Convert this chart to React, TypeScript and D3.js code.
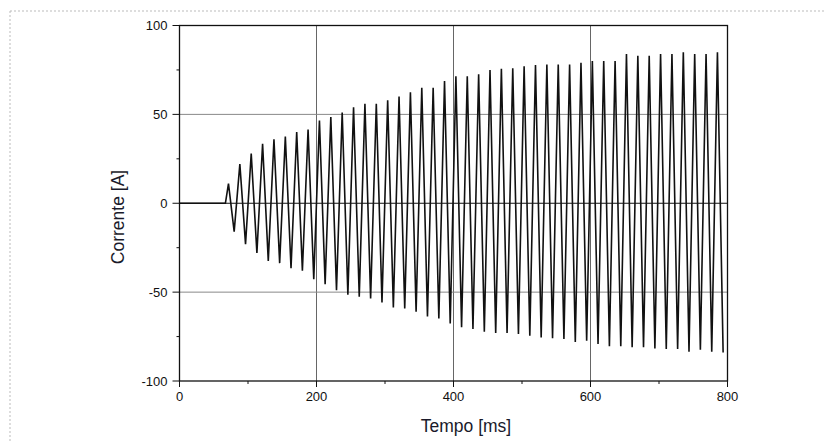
import React from "react"
import * as d3 from "d3"

const width = 826
const height = 443

// oscillogram of the inrush current
const startTime = 71.5 // ms, first positive peak
const period = 16.6 // ms, 60 Hz
const positivePeaks = [
  11, 22, 28, 33.5, 36, 37.5, 40, 41.5, 46.5, 48.5, 51, 54, 56, 56, 58, 60,
  62.5, 65, 65, 68.7, 71.5, 71.5, 72.5, 75, 75.7, 76, 77, 77.7, 78, 78, 78, 79,
  80, 80, 80, 84, 83, 83, 84, 84, 85, 84, 84, 85,
]
const negativePeaks = [
  -16, -23, -28, -32.4, -33.7, -36.5, -38, -42.7, -45.5, -49, -51.5, -52.6,
  -53.6, -55.8, -58.6, -59.2, -61, -63.7, -64.8, -67.6, -69.8, -70.8, -72.3,
  -73, -73, -73.6, -74.5, -75.5, -76, -76.4, -78, -77.3, -79.2, -80.5, -80.5,
  -81, -81, -81.7, -82, -82, -83.5, -82.4, -83.5, -84,
]
const preTrigger = [
  { t: 0, v: 0 },
  { t: 67, v: 0 },
]

const xTicks = [0, 200, 400, 600, 800]
const xMinor = [100, 300, 500, 700]
const yTicks = [-100, -50, 0, 50, 100]
const yMinor = [-75, -25, 25, 75]
const xGrid = [200, 400, 600]
const yGrid = [-50, 50]

const font = "'Liberation Sans', Arial, sans-serif"

export default function App() {
  const x = d3.scaleLinear().domain([0, 800]).range([179.5, 727.5])
  const y = d3.scaleLinear().domain([-100, 100]).range([381, 25.5])

  const points: { t: number; v: number }[] = [...preTrigger]
  positivePeaks.forEach((p, i) => {
    const t = startTime + i * period
    points.push({ t, v: p })
    points.push({ t: t + period / 2, v: negativePeaks[i] })
  })

  const line = d3
    .line<{ t: number; v: number }>()
    .x(d => x(d.t))
    .y(d => y(d.v))
    .curve(d3.curveLinear)

  const [x0, x1] = x.range()
  const [yb, yt] = y.range()

  return (
    <svg
      width={width}
      height={height}
      style={{ position: "absolute", left: 0, top: 0, background: "#fff" }}
    >
      {/* dotted page frame */}
      <line x1={10} x2={width} y1={11} y2={11} stroke="#bbb" strokeDasharray="2,2" />
      <line x1={10} x2={10} y1={11} y2={height} stroke="#bbb" strokeDasharray="2,2" />

      {/* grid */}
      {xGrid.map(v => (
        <line key={"gx" + v} x1={x(v)} x2={x(v)} y1={yt} y2={yb} stroke="#666" strokeWidth={1} />
      ))}
      {yGrid.map(v => (
        <line key={"gy" + v} x1={x0} x2={x1} y1={y(v)} y2={y(v)} stroke="#888" strokeWidth={1} />
      ))}
      <line x1={x0} x2={x1} y1={y(0)} y2={y(0)} stroke="#111" strokeWidth={1.2} />

      {/* signal */}
      <path
        d={line(points) || ""}
        fill="none"
        stroke="#111"
        strokeWidth={1.6}
        strokeLinejoin="miter"
        strokeMiterlimit={2}
      />

      {/* frame */}
      <rect x={x0} y={yt} width={x1 - x0} height={yb - yt} fill="none" stroke="#111" strokeWidth={1.3} />

      {/* y axis */}
      {yTicks.map(v => (
        <g key={"yt" + v}>
          <line x1={x0 - 7} x2={x0} y1={y(v)} y2={y(v)} stroke="#111" />
          <text
            x={x0 - 12}
            y={y(v)}
            dy="0.35em"
            textAnchor="end"
            fontFamily={font}
            fontSize={13}
            fill="#111"
          >
            {v}
          </text>
        </g>
      ))}
      {yMinor.map(v => (
        <line key={"ym" + v} x1={x0 - 3} x2={x0} y1={y(v)} y2={y(v)} stroke="#111" />
      ))}

      {/* x axis */}
      {xTicks.map(v => (
        <g key={"xt" + v}>
          <line x1={x(v)} x2={x(v)} y1={yb} y2={yb + 6} stroke="#111" />
          <text
            x={x(v)}
            y={yb + 20}
            textAnchor="middle"
            fontFamily={font}
            fontSize={13}
            fill="#111"
          >
            {v}
          </text>
        </g>
      ))}
      {xMinor.map(v => (
        <line key={"xm" + v} x1={x(v)} x2={x(v)} y1={yb} y2={yb + 3} stroke="#111" />
      ))}

      <text
        x={466}
        y={432}
        textAnchor="middle"
        fontFamily={font}
        fontSize={17.5}
        fill="#1a1a2a"
      >
        Tempo [ms]
      </text>
      <text
        transform="translate(124, 217) rotate(-90)"
        textAnchor="middle"
        fontFamily={font}
        fontSize={17.5}
        fill="#1a1a2a"
      >
        Corrente [A]
      </text>
    </svg>
  )
}
